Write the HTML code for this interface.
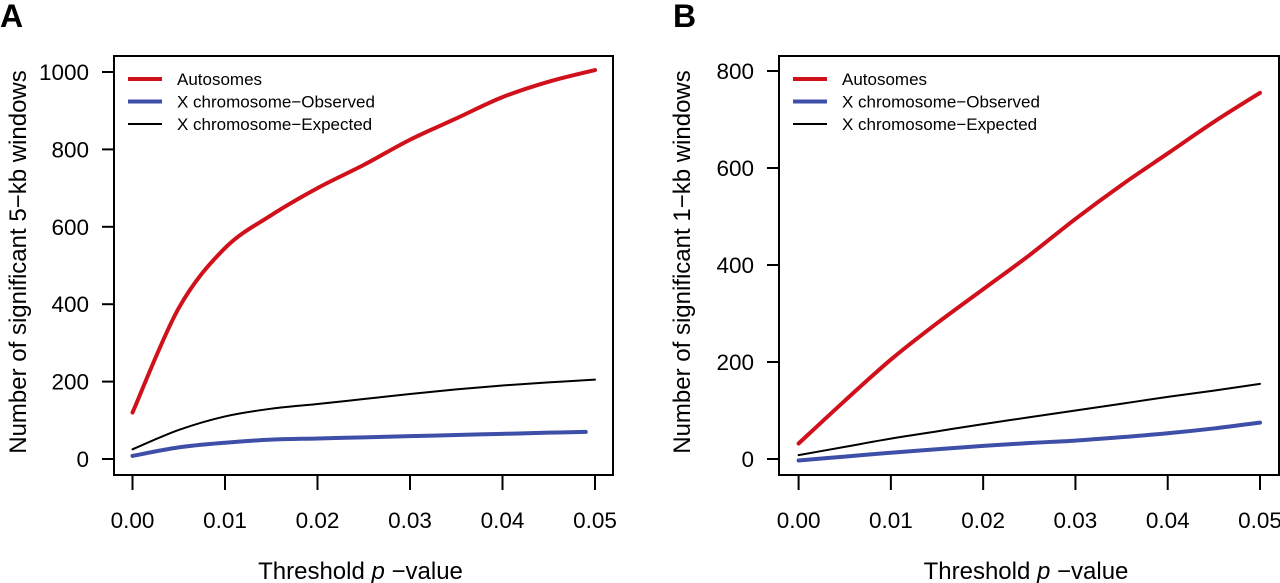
<!DOCTYPE html>
<html><head><meta charset="utf-8"><style>
body{margin:0;background:#fff;}
svg{display:block;font-family:"Liberation Sans",Arial,sans-serif;}
</style></head><body>
<svg id="s" width="1280" height="583"></svg>
<script>
const xTicks=[0,0.01,0.02,0.03,0.04,0.05];
const xTickLabels=["0.00","0.01","0.02","0.03","0.04","0.05"];
const xA=[0,0.005,0.01,0.015,0.02,0.025,0.03,0.035,0.04,0.045,0.05];
const xBlueA=[0,0.005,0.01,0.015,0.02,0.025,0.03,0.035,0.04,0.045,0.049];
const aAuto=[120,390,545,630,700,760,825,880,935,975,1005];
const aExp=[25,75,110,130,142,155,168,180,190,198,205];
const aObs=[8,30,42,50,53,56,59,62,65,68,70];
const aYTicks=[0,200,400,600,800,1000];
const bAuto=[32,120,205,280,350,420,495,565,630,695,755];
const bExp=[8,25,42,57,72,86,100,114,128,141,155];
const bObs=[-3,5,13,20,27,33,38,45,53,63,75];
const bYTicks=[0,200,400,600,800];
const legendLabels=["Autosomes","X chromosome\u2212Observed","X chromosome\u2212Expected"];
const colors=["#d0111c","#3e4fa8","#000"];
const widths=[4,4,2];
const NS="http://www.w3.org/2000/svg";
const svg=document.getElementById('s');
function mk(t,a,p){const e=document.createElementNS(NS,t);for(const k in a)e.setAttribute(k,a[k]);(p||svg).appendChild(e);return e;}
function smooth(pts){
  let d='M'+pts[0][0]+','+pts[0][1];
  for(let i=0;i<pts.length-1;i++){
    const p0=pts[Math.max(0,i-1)],p1=pts[i],p2=pts[i+1],p3=pts[Math.min(pts.length-1,i+2)];
    const c1=[p1[0]+(p2[0]-p0[0])/6,p1[1]+(p2[1]-p0[1])/6];
    const c2=[p2[0]-(p3[0]-p1[0])/6,p2[1]-(p3[1]-p1[1])/6];
    d+=` C${c1[0]},${c1[1]} ${c2[0]},${c2[1]} ${p2[0]},${p2[1]}`;
  }
  return d;
}
function panel(o){
  const g=mk('g',{});
  
  
  const X=v=>o.x0+(v-0)/(0.05)*(o.x1-o.x0);
  const Y=v=>o.y0-(v/o.ymax)*(o.y0-o.y1);
  const lbl=mk('text',{x:o.lx,y:27,'font-size':32,'font-weight':'bold'},g);lbl.textContent=o.id;
  
  
  const box=mk('rect',{x:o.bl,y:56,width:o.br-o.bl,height:419,fill:'none',stroke:'#000','stroke-width':2},g);
  
  
  xTicks.forEach((t,i)=>{
    mk('line',{x1:X(t),x2:X(t),y1:475,y2:490,stroke:'#000','stroke-width':2},g);
    const tx=mk('text',{x:X(t),y:528,'font-size':22.5,'text-anchor':'middle'},g);tx.textContent=xTickLabels[i];
    
    
  });
  o.yt.forEach(t=>{
    mk('line',{x1:o.bl-12,x2:o.bl,y1:Y(t),y2:Y(t),stroke:'#000','stroke-width':2},g);
    const tx=mk('text',{x:o.bl-25,y:Y(t)+8,'font-size':22.5,'text-anchor':'end'},g);tx.textContent=t;
    
    
  });
  const xt=mk('text',{x:(o.bl+o.br)/2-3,y:579,'font-size':24,'text-anchor':'middle'},g);
  xt.innerHTML='Threshold <tspan font-style="italic">p</tspan> \u2212value';
  
  
  const yt=mk('text',{x:0,y:0,'font-size':24,'text-anchor':'middle',transform:`translate(${o.ytx},262) rotate(-90)`},g);
  yt.textContent=o.ytitle;
  
  
  const series=[[xA,o.auto],[o.obsX,o.obs],[xA,o.exp]];
  const names=['autosomes-line','x-observed-line','x-expected-line'];
  [2,1,0].forEach(i=>{
    const [xs,ys]=series[i];
    const p=mk('path',{d:smooth(xs.map((x,j)=>[X(x),Y(ys[j])])),fill:'none',stroke:colors[i],'stroke-width':widths[i],'stroke-linejoin':'round','stroke-linecap':'round'},g);
    
    
  });
  legendLabels.forEach((l,i)=>{
    const yy=79+i*22.5;
    mk('line',{x1:o.bl+14,x2:o.bl+48,y1:yy,y2:yy,stroke:colors[i],'stroke-width':widths[i]},g);
    const t=mk('text',{x:o.bl+63,y:yy+6,'font-size':17},g);t.textContent=l;
    
    
  });
}
panel({id:'A',lx:0,bl:114,br:613,x0:132.5,x1:595,y0:459,y1:72,ymax:1000,yt:aYTicks,auto:aAuto,exp:aExp,obs:aObs,obsX:xBlueA,ytx:26,ytitle:'Number of significant 5\u2212kb windows'});
panel({id:'B',lx:673,bl:779,br:1279,x0:798.6,x1:1260,y0:459,y1:71,ymax:800,yt:bYTicks,auto:bAuto,exp:bExp,obs:bObs,obsX:xA,ytx:690,ytitle:'Number of significant 1\u2212kb windows'});
</script>
</body></html>
